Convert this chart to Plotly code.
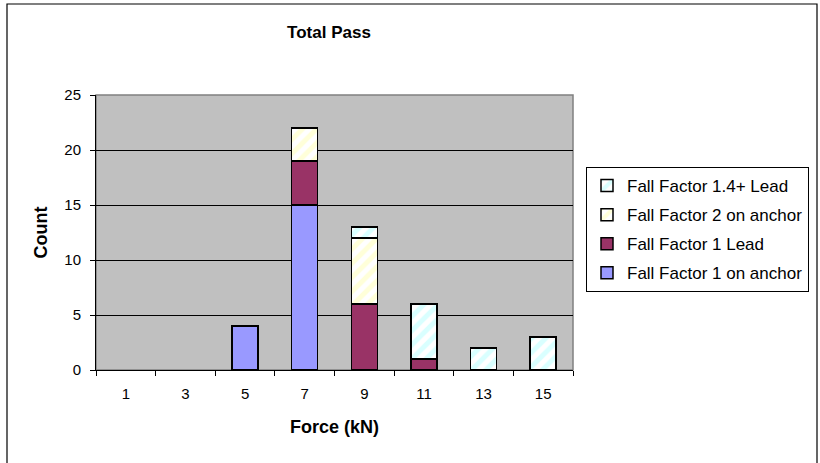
import plotly.graph_objects as go

# Force bins (kN) and pass counts per test configuration
forces = ["1", "3", "5", "7", "9", "11", "13", "15"]
ff1_anchor = [0, 0, 4, 15, 0, 0, 0, 0]
ff1_lead = [0, 0, 0, 4, 6, 1, 0, 0]
ff2_anchor = [0, 0, 0, 3, 6, 0, 0, 0]
ff14_lead = [0, 0, 0, 0, 1, 5, 2, 3]

W, H = 820, 463
ML, MR, MT, MB = 96, 247, 95, 93
PW, PH = W - ML - MR, H - MT - MB

FONT = "Liberation Sans, Arial, sans-serif"


def nz(vals):
    # empty bins draw no bar at all
    return [v if v else None for v in vals]


def stripes(fg):
    return dict(shape="/", fgcolor=fg, bgcolor="#FFFFFF", size=10, solidity=0.5,
                fillmode="overlay")


series = [
    ("Fall Factor 1 on anchor", ff1_anchor, dict(color="#9999FF")),
    ("Fall Factor 1 Lead", ff1_lead, dict(color="#993366")),
    ("Fall Factor 2 on anchor", ff2_anchor, dict(color="#FFFFFF", pattern=stripes("#FFFFB4"))),
    ("Fall Factor 1.4+ Lead", ff14_lead, dict(color="#FFFFFF", pattern=stripes("#B4FFFF"))),
]

fig = go.Figure()
for i, (name, vals, mk) in enumerate(series):
    fig.add_trace(go.Bar(
        x=forces, y=nz(vals), name=name, legendgroup=f"g{i}",
        legendrank=100 - i,  # top of the stack listed first
        marker=dict(line=dict(color="#000000", width=1.5), **mk),
    ))

# outer chart frame (bottom edge runs off the page)
fig.add_shape(type="rect", xref="paper", yref="paper",
              x0=(7 - ML) / PW, x1=(817 - ML) / PW,
              y0=-(470 - MT - PH) / PH, y1=1 + (MT - 4) / PH,
              line=dict(color="#000000", width=1.2), fillcolor="rgba(0,0,0,0)", layer="below")

fig.update_layout(
    width=W, height=H,
    margin=dict(l=ML, r=MR, t=MT, b=MB),
    paper_bgcolor="#FFFFFF",
    plot_bgcolor="#C0C0C0",
    barmode="stack",
    bargap=1.3 / 2.3,
    font=dict(family=FONT, size=15, color="#000000"),
    title=dict(text="<b>Total Pass</b>", x=329 / W, xref="container", y=1 - 32 / H,
               yref="container", yanchor="middle", xanchor="center", font=dict(size=17)),
    showlegend=True,
    legend=dict(
        traceorder="grouped", tracegroupgap=4,
        xref="container", yref="container",
        x=586 / W, y=1 - 167 / H, xanchor="left", yanchor="top",
        bgcolor="#FFFFFF", bordercolor="#000000", borderwidth=1,
        font=dict(size=17), itemwidth=30,
    ),
    xaxis=dict(
        type="category", tickson="boundaries", ticks="outside", ticklen=5,
        tickcolor="#000000", showline=True, linecolor="#000000", linewidth=1,
        showgrid=False, ticklabelstandoff=10,
        title=dict(text="<b>Force (kN)</b>", standoff=19),
    ),
    yaxis=dict(
        range=[0, 25], dtick=5, ticks="outside", ticklen=5, tickcolor="#000000",
        showgrid=True, gridcolor="#000000", gridwidth=1,
        showline=True, linecolor="#000000", linewidth=1, zeroline=False,
        ticklabelstandoff=6,
        title=dict(text="<b>Count</b>", standoff=12),
    ),
)

# plot-area border
fig.add_shape(type="rect", xref="paper", yref="paper", x0=0, x1=1, y0=0, y1=1,
              line=dict(color="#808080", width=1.5), fillcolor="rgba(0,0,0,0)", layer="below")

fig.write_html("out.html")
